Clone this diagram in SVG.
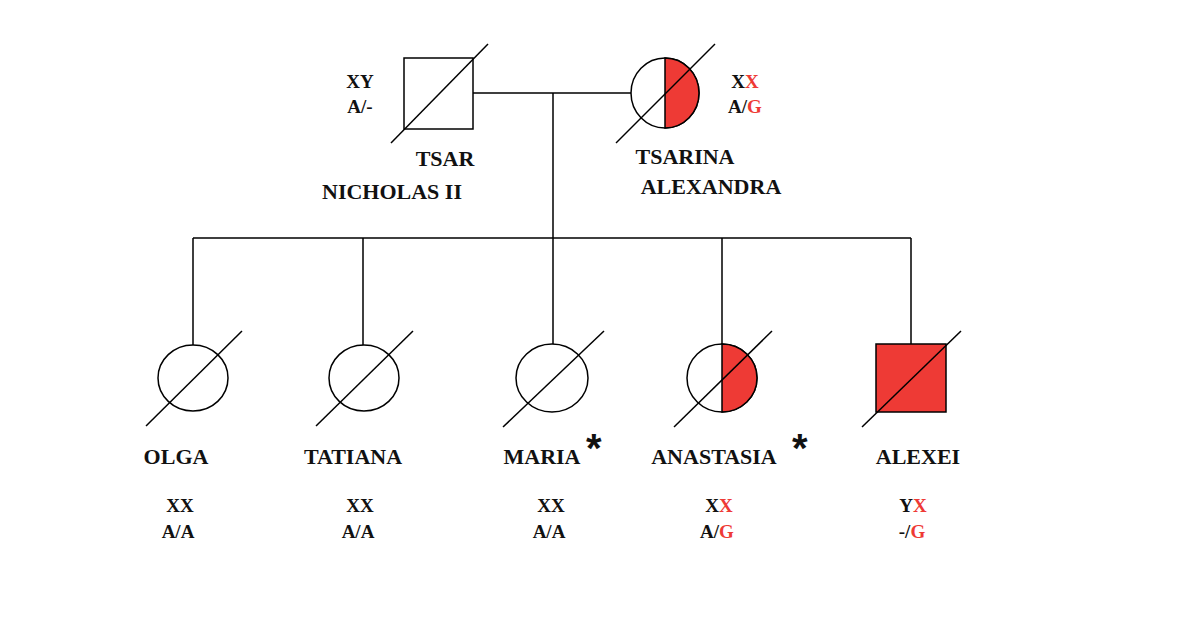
<svg xmlns="http://www.w3.org/2000/svg" width="1200" height="619" viewBox="0 0 1200 619">
<style>
.s{fill:none;stroke:#000;stroke-width:1.5}
.f{fill:#ee3a35;stroke:#000;stroke-width:1.5}
.w{fill:#fff;stroke:#000;stroke-width:1.5}
text{font-family:"Liberation Serif",serif;font-weight:bold;fill:#111;text-anchor:middle}
.n{font-size:22px}
.g{font-size:19px}
.r{fill:#ee3a35}
.a{font-family:"Liberation Sans",sans-serif;font-size:40px;text-anchor:start}
</style>
<rect width="1200" height="619" fill="#fff"/>
<g id="connectors" class="s">
<path d="M473 93H631M553 93V238M193 238H911M193 238V345M363 238V345M553 238V344M722 238V344M911 238V344"/>
</g>
<g id="tsar">
<rect class="w" x="404" y="58" width="69" height="71"/>
<line class="s" x1="391" y1="143" x2="488" y2="44"/>
<text class="g" x="360" y="88">XY</text><text class="g" x="360" y="113">A/-</text>
<text class="n" x="445" y="166">TSAR</text><text class="n" x="392" y="199">NICHOLAS II</text>
</g>
<g id="tsarina">
<ellipse class="w" cx="665" cy="93" rx="34" ry="35"/>
<path class="f" d="M665 58A34 35 0 0 1 665 128Z"/>
<line class="s" x1="616" y1="143" x2="715" y2="44"/>
<text class="g" x="745" y="88">X<tspan class="r">X</tspan></text><text class="g" x="745" y="113">A/<tspan class="r">G</tspan></text>
<text class="n" x="685" y="164">TSARINA</text><text class="n" x="711" y="194">ALEXANDRA</text>
</g>
<g id="olga">
<ellipse class="w" cx="193" cy="378" rx="35" ry="33"/>
<line class="s" x1="146" y1="426" x2="242" y2="331"/>
<text class="n" x="176" y="464">OLGA</text>
<text class="g" x="180" y="512">XX</text><text class="g" x="178" y="538">A/A</text>
</g>
<g id="tatiana">
<ellipse class="w" cx="364" cy="378" rx="35" ry="33"/>
<line class="s" x1="316" y1="426" x2="413" y2="331"/>
<text class="n" x="353" y="464">TATIANA</text>
<text class="g" x="360" y="512">XX</text><text class="g" x="358" y="538">A/A</text>
</g>
<g id="maria">
<ellipse class="w" cx="552" cy="378" rx="36" ry="34"/>
<line class="s" x1="503" y1="427" x2="604" y2="331"/>
<text class="n" x="542" y="464">MARIA</text>
<text class="a" x="586" y="462">*</text>
<text class="g" x="551" y="512">XX</text><text class="g" x="549" y="538">A/A</text>
</g>
<g id="anastasia">
<ellipse class="w" cx="722" cy="378" rx="35" ry="34"/>
<path class="f" d="M722 344A35 34 0 0 1 722 412Z"/>
<line class="s" x1="674" y1="427" x2="772" y2="331"/>
<text class="n" x="714" y="464">ANASTASIA</text>
<text class="a" x="792" y="462">*</text>
<text class="g" x="719" y="512">X<tspan class="r">X</tspan></text><text class="g" x="717" y="538">A/<tspan class="r">G</tspan></text>
</g>
<g id="alexei">
<rect class="f" x="876" y="344" width="70" height="68"/>
<line class="s" x1="862" y1="427" x2="961" y2="331"/>
<text class="n" x="918" y="464">ALEXEI</text>
<text class="g" x="913" y="512">Y<tspan class="r">X</tspan></text><text class="g" x="912" y="538">-/<tspan class="r">G</tspan></text>
</g>
</svg>
